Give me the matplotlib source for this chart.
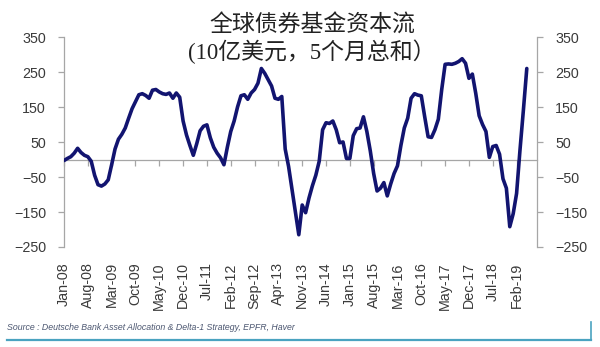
import matplotlib
matplotlib.use("Agg")
import matplotlib.pyplot as plt
from matplotlib.lines import Line2D

plt.rcParams['font.family'] = ['Liberation Sans', 'Noto Sans CJK SC', 'DejaVu Sans']

# Global bond fund flows, USD bn, rolling 5-month sum, monthly from Jan-08
flows = [
    -3, 3, 8, 18, 32, 20, 12, 8, -5, -45, -72, -76,            # 2008
    -70, -58, -15, 30, 58, 72, 90, 118, 145, 165, 185, 188,    # 2009
    183, 175, 198, 200, 193, 188, 186, 190, 175, 190, 178, 110,  # 2010
    70, 40, 12, 45, 82, 95, 99, 62, 35, 18, 5, -15,            # 2011
    35, 80, 110, 150, 182, 185, 172, 190, 200, 218, 260, 246,  # 2012
    228, 210, 175, 172, 180, 30, -20, -85, -150, -215, -130, -152,  # 2013
    -110, -75, -45, -5, 85, 105, 103, 110, 85, 48, 50, 3,      # 2014
    3, 68, 88, 90, 122, 80, 25, -40, -90, -82, -66, -104,      # 2015
    -70, -40, -18, 40, 90, 118, 175, 188, 184, 182, 122, 65,   # 2016
    63, 85, 115, 200, 272, 273, 272, 275, 280, 288, 275, 232,  # 2017
    244, 189, 125, 100, 80, 6, 37, 40, 15, -55, -82, -192,     # 2018
    -155, -97, 27, 141, 260,                                   # 2019
]

tick_labels = ["Jan-08", "Aug-08", "Mar-09", "Oct-09", "May-10", "Dec-10",
               "Jul-11", "Feb-12", "Sep-12", "Apr-13", "Nov-13", "Jun-14",
               "Jan-15", "Aug-15", "Mar-16", "Oct-16", "May-17", "Dec-17",
               "Jul-18", "Feb-19"]
tick_step = 7          # months between labelled ticks
n_months_axis = 139    # axis span in months

y_ticks = [-250, -150, -50, 50, 150, 250, 350]

title_main = "全球债券基金资本流"
title_sub = "(10亿美元，5个月总和）"
source = "Source : Deutsche Bank Asset Allocation & Delta-1 Strategy, EPFR, Haver"

line_color = "#121470"
axis_color = "#a6a6a6"
text_color = "#3a3a3a"

fig = plt.figure(figsize=(6.0, 3.47), dpi=100)
ax = fig.add_axes([64 / 600, 1 - 247 / 347, 473 / 600, 210 / 347])

x = list(range(len(flows)))
ax.plot(x, flows, color=line_color, lw=2.6, solid_joinstyle='round',
        solid_capstyle='round', zorder=3)

ax.set_xlim(0, n_months_axis)
ax.set_ylim(-250, 350)

# y axes on both sides
ax.set_yticks(y_ticks)
ax.tick_params(axis='y', which='both', left=True, right=True,
               labelleft=True, labelright=True, direction='out',
               length=4, width=0.9, color=axis_color, pad=9,
               labelsize=10.3, labelcolor=text_color)
for side in ("left", "right"):
    ax.spines[side].set_color(axis_color)
    ax.spines[side].set_linewidth(0.9)
ax.spines["top"].set_visible(False)

# category axis crossing at zero, ticks pointing down
ax.spines["bottom"].set_position(("data", 0))
ax.spines["bottom"].set_color(axis_color)
ax.spines["bottom"].set_linewidth(0.9)
tick_pos = [i * tick_step for i in range(len(tick_labels))]
ax.set_xticks(tick_pos)
ax.tick_params(axis='x', direction='out', length=4, width=0.9,
               color=axis_color, labelbottom=False)

# labels placed at the bottom of the plot area
sec = ax.secondary_xaxis('bottom')
sec.set_xticks(tick_pos)
sec.set_xticklabels(tick_labels, rotation=90, ha='center', va='top')
sec.tick_params(length=0, pad=11, labelsize=10.3, labelcolor=text_color)
sec.spines["bottom"].set_visible(False)

fig.text(312 / 600, 1 - 25 / 347, title_main, ha='center', va='center',
         fontsize=16.5, color="#222222", family=['Noto Sans CJK SC'])
fig.text(312 / 600, 1 - 52 / 347, title_sub, ha='center', va='center',
         fontsize=16.5, color="#222222",
         family=['Liberation Serif', 'Noto Sans CJK SC'])

fig.text(7 / 600, 1 - 328 / 347, source, ha='left', va='center',
         fontsize=6.3, style='italic', color="#4b5670")

# framing rule under the source note
rule = "#4aa3c0"
fig.add_artist(Line2D([7 / 600, 591 / 600], [1 - 340 / 347, 1 - 340 / 347],
                      transform=fig.transFigure, color=rule, lw=1.6))
fig.add_artist(Line2D([591 / 600, 591 / 600], [1 - 340 / 347, 1 - 322 / 347],
                      transform=fig.transFigure, color=rule, lw=1.2))

fig.savefig("out.png", dpi=100, facecolor="white")
